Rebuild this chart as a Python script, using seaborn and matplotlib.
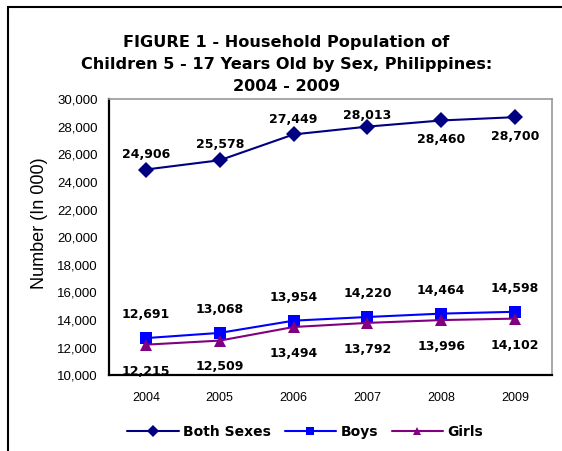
import matplotlib
matplotlib.use("Agg")
import matplotlib.pyplot as plt
import seaborn as sns
import pandas as pd
from matplotlib.patches import Rectangle
from matplotlib.ticker import FuncFormatter, MultipleLocator

years = [2004, 2005, 2006, 2007, 2008, 2009]
both_sexes = [24906, 25578, 27449, 28013, 28460, 28700]
boys = [12691, 13068, 13954, 14220, 14464, 14598]
girls = [12215, 12509, 13494, 13792, 13996, 14102]

series_names = ["Both Sexes", "Boys", "Girls"]
colors = {"Both Sexes": "#000080", "Boys": "#0000FF", "Girls": "#800080"}
markers = {"Both Sexes": "D", "Boys": "s", "Girls": "^"}

df = pd.DataFrame({
    "year": years * 3,
    "value": both_sexes + boys + girls,
    "series": [n for n in series_names for _ in years],
})

sns.set_style("white")
plt.rcParams["font.family"] = ["Liberation Sans", "DejaVu Sans"]
plt.rcParams["text.color"] = "black"
plt.rcParams["axes.labelcolor"] = "black"
plt.rcParams["xtick.color"] = "black"
plt.rcParams["ytick.color"] = "black"

fig = plt.figure(figsize=(5.62, 4.51), dpi=100)
ax = fig.add_axes([0.194, 0.168, 0.788, 0.612])

sns.lineplot(data=df, x="year", y="value", hue="series", style="series",
             palette=colors, markers=markers, dashes=False, markersize=8,
             markeredgewidth=0, linewidth=1.5, ax=ax, legend=False)

# data labels, offsets in points
label_font = dict(family="DejaVu Sans", fontweight="bold", fontsize=9, color="black")
both_dy = [11, 11, 11, 8, -14, -14]
for x, v, dy in zip(years, both_sexes, both_dy):
    ax.annotate(f"{v:,}", (x, v), xytext=(0, dy), textcoords="offset points",
                ha="center", va="center", **label_font)
for x, v in zip(years, boys):
    ax.annotate(f"{v:,}", (x, v), xytext=(0, 17), textcoords="offset points",
                ha="center", va="center", **label_font)
for x, v in zip(years, girls):
    ax.annotate(f"{v:,}", (x, v), xytext=(0, -19), textcoords="offset points",
                ha="center", va="center", annotation_clip=False, **label_font)

ax.set_xlim(2003.5, 2009.5)
ax.set_ylim(10000, 30000)
ax.yaxis.set_major_locator(MultipleLocator(2000))
ax.yaxis.set_major_formatter(FuncFormatter(lambda v, p: f"{int(v):,}"))
ax.set_xticks(years)
ax.set_xticks([y - 0.5 for y in years] + [2009.5], minor=True)
ax.tick_params(axis="x", which="major", length=0, pad=12, labelsize=9)
ax.tick_params(axis="x", which="minor", length=5, width=1, direction="out", color="black")
ax.tick_params(axis="y", which="major", length=5, width=1, direction="out",
               color="black", labelsize=9.5, pad=3)
ax.set_xlabel("")
ax.set_ylabel("Number (In 000)", fontsize=13)
ax.yaxis.set_label_coords(-0.138, 0.55)

for side in ["left", "bottom"]:
    ax.spines[side].set_color("black")
    ax.spines[side].set_linewidth(1.6)
for side in ["top", "right"]:
    ax.spines[side].set_color("#999999")
    ax.spines[side].set_linewidth(1.2)

title_font = dict(family="DejaVu Sans", fontweight="bold", fontsize=11.6)
fig.text(0.51, 0.905, "FIGURE 1 - Household Population of", ha="center", va="center", **title_font)
fig.text(0.51, 0.858, "Children 5 - 17 Years Old by Sex, Philippines:", ha="center", va="center", **title_font)
fig.text(0.51, 0.808, "2004 - 2009", ha="center", va="center", **title_font)

handles = [plt.Line2D([], [], color=colors[n], marker=markers[n], markersize=6,
                      markeredgewidth=0, linewidth=1.5) for n in series_names]
fig.legend(handles, series_names, loc="center", bbox_to_anchor=(0.543, 0.042), ncol=3,
           frameon=False, handlelength=3.7, columnspacing=1.0, handletextpad=0.3,
           prop=dict(family="DejaVu Sans", weight="bold", size=10))

# outer chart frame (top and left edges visible)
fig.patches.append(Rectangle((8 / 562, -0.1), 1.2, (451 - 7) / 451 + 0.1,
                             transform=fig.transFigure, fill=False,
                             edgecolor="black", linewidth=1.5))

fig.savefig("out.png", dpi=100)
